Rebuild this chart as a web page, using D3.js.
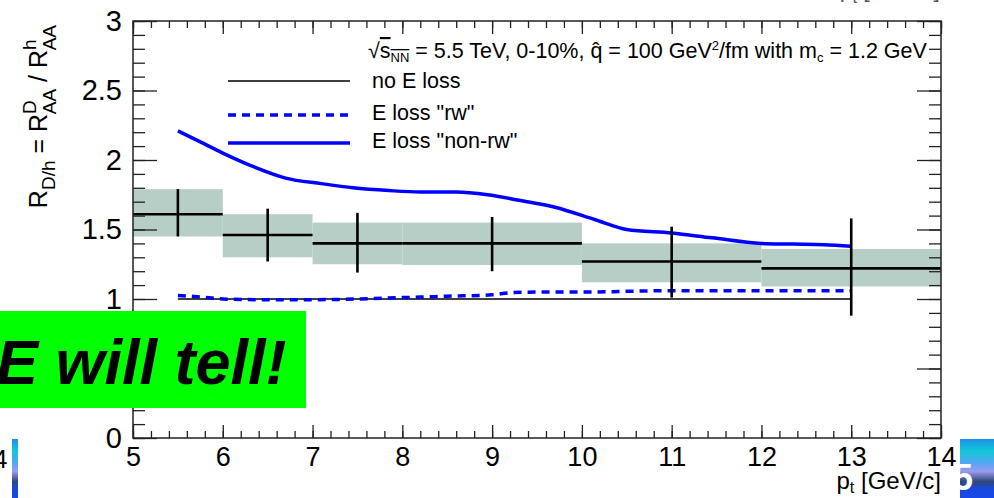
<!DOCTYPE html>
<meta charset="utf-8">
<style>
body { margin: 0; background: #fff; }
svg { display: block; font-family: "Liberation Sans", Arial, sans-serif; }
.axis path { display: none; }
.axis line { stroke: #222; stroke-width: 1.3px; }
.axis text { fill: #000; font-family: "Liberation Sans", Arial, sans-serif; }
.xaxis text { font-size: 27px; }
.yaxis text { font-size: 29px; }
.leg { font-size: 21.5px; fill: #000; }
</style>
<body>
<script src="https://cdn.jsdelivr.net/npm/d3@7"></script>
<script>

// bins of the D/h measurement
var binLo = [5, 6, 7, 8, 10, 12],
    binHi = [6, 7, 8, 10, 12, 14],
    binCenter = [5.5, 6.5, 7.5, 9, 11, 13],
    ratio = [1.61, 1.46, 1.40, 1.40, 1.27, 1.22],
    statLo = [1.45, 1.27, 1.19, 1.20, 1.01, 0.88],
    statHi = [1.79, 1.65, 1.62, 1.59, 1.52, 1.58],
    sysLo = [1.45, 1.30, 1.25, 1.245, 1.12, 1.09],
    sysHi = [1.79, 1.61, 1.55, 1.55, 1.40, 1.36];

// model curves
var ptNoLoss = [5.5, 13],
    rNoLoss = [1, 1];
var ptRw = [5.5, 5.75, 6.0, 6.5, 7.0, 7.5, 8.0, 8.5, 9.0, 9.2, 9.5, 10.0, 10.5, 11.0, 12.0, 13.0],
    rRw = [1.025, 1.015, 1.0, 0.995, 0.995, 1.0, 1.01, 1.02, 1.03, 1.045, 1.05, 1.05, 1.055, 1.06, 1.06, 1.06];
var ptNonRw = [5.5, 5.75, 6.0, 6.35, 6.7, 7.1, 7.45, 7.85, 8.2, 8.6, 8.95, 9.3, 9.7, 10.15, 10.5, 11.0, 11.45, 12.0, 12.35, 12.7, 13.0],
    rNonRw = [2.21, 2.13, 2.05, 1.95, 1.87, 1.83, 1.80, 1.78, 1.77, 1.77, 1.75, 1.71, 1.66, 1.57, 1.50, 1.475, 1.44, 1.40, 1.395, 1.39, 1.38];

// ticks
var xMajor = [5, 6, 7, 8, 9, 10, 11, 12, 13, 14],
    yMajor = [0, 0.5, 1, 1.5, 2, 2.5, 3],
    yMajorLabels = ["0", "", "1", "1.5", "2", "2.5", "3"];
var xMinor = d3.range(5, 14.001, 0.2),
    yMinor = d3.range(0, 3.001, 0.1);

var W = 994, H = 498;
var frame = {left: 133, right: 941, top: 21, bottom: 438};

var svg = d3.select("body").append("svg")
    .attr("width", W)
    .attr("height", H);

var x = d3.scaleLinear().domain([5, 14]).range([frame.left, frame.right]);
var y = d3.scaleLinear().domain([0, 3]).range([frame.bottom, frame.top]);

// systematic boxes
svg.selectAll(".sys")
    .data(binLo)
  .enter().append("rect")
    .attr("x", function(d, i) { return x(binLo[i]); })
    .attr("width", function(d, i) { return x(binHi[i]) - x(binLo[i]); })
    .attr("y", function(d, i) { return y(sysHi[i]); })
    .attr("height", function(d, i) { return y(sysLo[i]) - y(sysHi[i]); })
    .attr("fill", "#b6cec5");

// model lines
var line = d3.line()
    .x(function(d) { return x(d[0]); })
    .y(function(d) { return y(d[1]); });

svg.append("path")
    .attr("d", line(d3.zip(ptNoLoss, rNoLoss)))
    .attr("fill", "none").attr("stroke", "#000").attr("stroke-width", 1.3);

svg.append("path")
    .attr("d", line.curve(d3.curveMonotoneX)(d3.zip(ptRw, rRw)))
    .attr("fill", "none").attr("stroke", "#0000ff").attr("stroke-width", 3.5)
    .attr("stroke-dasharray", "8,6");

svg.append("path")
    .attr("d", line.curve(d3.curveMonotoneX)(d3.zip(ptNonRw, rNonRw)))
    .attr("fill", "none").attr("stroke", "#0000ff").attr("stroke-width", 3.5);

// data points: horizontal bin lines and vertical stat errors
svg.selectAll(".hbar")
    .data(binLo)
  .enter().append("line")
    .attr("x1", function(d, i) { return x(binLo[i]); })
    .attr("x2", function(d, i) { return x(binHi[i]); })
    .attr("y1", function(d, i) { return y(ratio[i]); })
    .attr("y2", function(d, i) { return y(ratio[i]); })
    .attr("stroke", "#000").attr("stroke-width", 2.6);

svg.selectAll(".vbar")
    .data(binCenter)
  .enter().append("line")
    .attr("x1", function(d) { return x(d); })
    .attr("x2", function(d) { return x(d); })
    .attr("y1", function(d, i) { return y(statLo[i]); })
    .attr("y2", function(d, i) { return y(statHi[i]); })
    .attr("stroke", "#000").attr("stroke-width", 2.6);

// axes (ticks drawn inward on all four sides)
function addAxis(ax, cls, tx, ty, noLabels) {
  var g = svg.append("g").attr("class", "axis " + cls)
      .attr("transform", "translate(" + tx + "," + ty + ")")
      .call(ax);
  if (noLabels) g.selectAll("text").remove();
  return g;
}

addAxis(d3.axisBottom(x).tickValues(xMinor).tickSize(-7).tickFormat(""), "xaxis", 0, frame.bottom, true);
addAxis(d3.axisBottom(x).tickValues(xMajor).tickSize(-13).tickPadding(28).tickFormat(d3.format("d")), "xaxis", 0, frame.bottom, false)
  .selectAll("text").attr("dy", "0");
addAxis(d3.axisTop(x).tickValues(xMinor).tickSize(-7).tickFormat(""), "xaxis", 0, frame.top, true);
addAxis(d3.axisTop(x).tickValues(xMajor).tickSize(-13).tickFormat(""), "xaxis", 0, frame.top, true);

addAxis(d3.axisLeft(y).tickValues(yMinor).tickSize(-12).tickFormat(""), "yaxis", frame.left, 0, true);
addAxis(d3.axisLeft(y).tickValues(yMajor).tickSize(-24).tickPadding(11)
    .tickFormat(function(d, i) { return yMajorLabels[i]; }), "yaxis", frame.left, 0, false);
addAxis(d3.axisRight(y).tickValues(yMinor).tickSize(-12).tickFormat(""), "yaxis", frame.right, 0, true);
addAxis(d3.axisRight(y).tickValues(yMajor).tickSize(-24).tickFormat(""), "yaxis", frame.right, 0, true);

svg.append("rect")
    .attr("x", frame.left).attr("y", frame.top)
    .attr("width", frame.right - frame.left).attr("height", frame.bottom - frame.top)
    .attr("fill", "none").attr("stroke", "#222").attr("stroke-width", 1.5);

// axis titles
var xt = svg.append("text")
    .attr("x", frame.right).attr("y", 489)
    .attr("text-anchor", "end")
    .style("font-size", "24px");
xt.append("tspan").text("p");
xt.append("tspan").attr("dy", 4).style("font-size", "16px").text("t");
xt.append("tspan").attr("dy", -4).text(" [GeV/c]");

var yt = svg.append("text")
    .attr("transform", "translate(47,25) rotate(-90)")
    .attr("text-anchor", "end")
    .style("font-size", "25px");
yt.append("tspan").text("R");
yt.append("tspan").attr("dy", 8).style("font-size", "19px").text("D/h");
yt.append("tspan").attr("dy", -8).text(" = R");
yt.append("tspan").attr("dy", -11).style("font-size", "19px").text("D");
yt.append("tspan").attr("dx", -14).attr("dy", 20).style("font-size", "19px").text("AA");
yt.append("tspan").attr("dy", -9).text(" / R");
yt.append("tspan").attr("dy", -11).style("font-size", "19px").text("h");
yt.append("tspan").attr("dx", -11).attr("dy", 20).style("font-size", "19px").text("AA");

// legend
var legX1 = 228, legX2 = 350, legTx = 372;
var hd = svg.append("text").attr("class", "leg").attr("x", legTx - 4).attr("y", 58);
hd.append("tspan").text("\u221A");
hd.append("tspan").style("text-decoration", "overline").text("s");
hd.append("tspan").attr("dy", 4).style("font-size", "13px").style("text-decoration", "overline").text("NN");
hd.append("tspan").attr("dy", -4).text(" = 5.5 TeV, 0-10%, q\u0302 = 100 GeV");
hd.append("tspan").attr("dy", -8).style("font-size", "13px").text("2");
hd.append("tspan").attr("dy", 8).text("/fm with m");
hd.append("tspan").attr("dy", 4).style("font-size", "13px").text("c");
hd.append("tspan").attr("dy", -4).text(" = 1.2 GeV");

var legY = [81, 115, 143],
    legTextY = [88, 120, 148],
    legText = ["no E loss", "E loss \"rw\"", "E loss \"non-rw\""],
    legStroke = ["#000", "#0000ff", "#0000ff"],
    legWidth = [1.3, 3.5, 3.5],
    legDash = [null, "8,6", null];

svg.selectAll(".legline")
    .data(legY)
  .enter().append("line")
    .attr("x1", legX1).attr("x2", legX2)
    .attr("y1", function(d) { return d; }).attr("y2", function(d) { return d; })
    .attr("stroke", function(d, i) { return legStroke[i]; })
    .attr("stroke-width", function(d, i) { return legWidth[i]; })
    .attr("stroke-dasharray", function(d, i) { return legDash[i]; });

svg.selectAll(".legtext")
    .data(legY)
  .enter().append("text")
    .attr("class", "leg")
    .attr("x", legTx)
    .attr("y", function(d, i) { return legTextY[i]; })
    .text(function(d, i) { return legText[i]; });

// slide overlay: green banner
svg.append("rect")
    .attr("x", 0).attr("y", 311).attr("width", 306).attr("height", 97)
    .attr("fill", "#00ff00");
svg.append("text")
    .attr("x", -4).attr("y", 384)
    .style("font-size", "63px").style("font-weight", "bold").style("font-style", "italic")
    .text("E will tell!");

// axis title of the plot above, mostly out of frame
var upperTitle = svg.append("text")
    .attr("x", 940).attr("y", -3)
    .attr("text-anchor", "end").attr("fill", "#555")
    .style("font-size", "23px");
upperTitle.append("tspan").text("p");
upperTitle.append("tspan").attr("dy", 6).style("font-size", "16px").text("t");
upperTitle.append("tspan").attr("dy", -6).text(" [GeV/c]");

// slide decorations at the bottom corners
var grad = svg.append("defs").append("linearGradient")
    .attr("id", "slideGrad").attr("x1", 0).attr("y1", 0).attr("x2", 0).attr("y2", 1);
[["0%", "#1e8ee8"], ["20%", "#10c8d8"], ["40%", "#50a8f0"], ["55%", "#9a9af0"], ["72%", "#304878"], ["85%", "#1848e0"], ["100%", "#1848e8"]]
  .forEach(function(s) { grad.append("stop").attr("offset", s[0]).attr("stop-color", s[1]); });

svg.append("rect").attr("x", 12).attr("y", 439).attr("width", 6).attr("height", 59).attr("fill", "url(#slideGrad)");
svg.append("rect").attr("x", 960).attr("y", 439).attr("width", 34).attr("height", 59).attr("fill", "url(#slideGrad)");
svg.append("clipPath").attr("id", "rc").append("rect").attr("x", 960).attr("y", 439).attr("width", 34).attr("height", 59);
svg.append("text").attr("x", 953).attr("y", 490).attr("clip-path", "url(#rc)")
    .style("font-size", "36px").style("font-weight", "bold").attr("fill", "#fff").text("5");
svg.append("text").attr("x", -7).attr("y", 468).style("font-size", "26px").text("4");

</script>
</body>
